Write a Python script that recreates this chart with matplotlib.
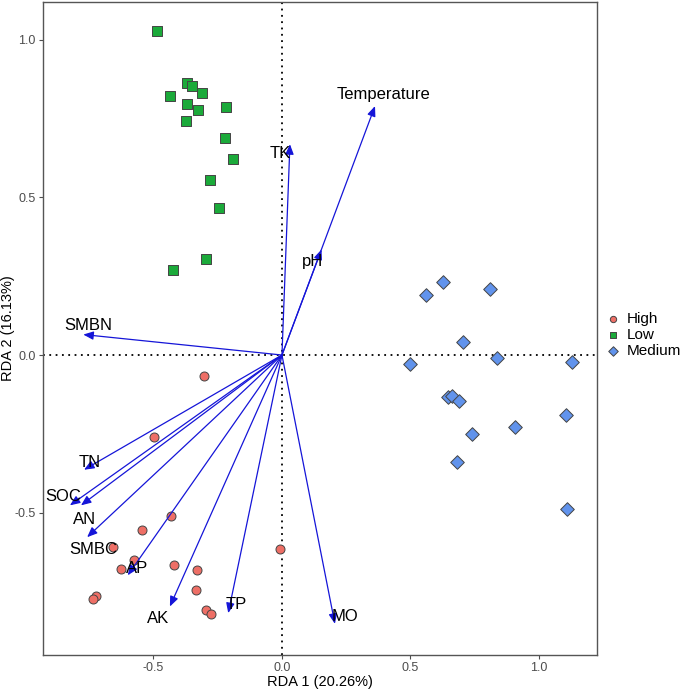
import numpy as np
import matplotlib
matplotlib.use("Agg")
import matplotlib.pyplot as plt

plt.rcParams['font.family'] = ['Liberation Sans', 'DejaVu Sans']

# sample scores
high_x = [-0.304, -0.498, -0.431, -0.544, -0.658, -0.009, -0.576, -0.628,
          -0.419, -0.332, -0.333, -0.722, -0.735, -0.294, -0.275]
high_y = [-0.068, -0.259, -0.510, -0.554, -0.610, -0.617, -0.652, -0.679,
          -0.667, -0.683, -0.745, -0.765, -0.773, -0.808, -0.823]

low_x = [-0.485, -0.435, -0.370, -0.350, -0.310, -0.370, -0.328, -0.219,
         -0.374, -0.223, -0.191, -0.279, -0.245, -0.296, -0.425]
low_y = [1.027, 0.823, 0.862, 0.854, 0.831, 0.795, 0.776, 0.787,
         0.743, 0.690, 0.622, 0.554, 0.465, 0.306, 0.271]

med_x = [0.560, 0.625, 0.811, 0.703, 0.499, 0.837, 1.128, 0.645,
         0.661, 0.687, 1.105, 0.905, 0.740, 0.681, 1.110]
med_y = [0.192, 0.232, 0.208, 0.041, -0.029, -0.011, -0.021, -0.134,
         -0.131, -0.145, -0.189, -0.229, -0.252, -0.339, -0.488]

# environmental vectors
env_names = ['Temperature', 'TK', 'pH', 'SMBN', 'TN', 'SOC', 'AN', 'SMBC',
             'AP', 'AK', 'TP', 'MO']
env_x = [0.362, 0.031, 0.154, -0.773, -0.770, -0.825, -0.782, -0.758,
         -0.600, -0.436, -0.209, 0.206]
env_y = [0.790, 0.669, 0.335, 0.065, -0.364, -0.477, -0.477, -0.578,
         -0.699, -0.798, -0.819, -0.853]
# label positions
lab_x = [0.397, -0.008, 0.119, -0.754, -0.750, -0.851, -0.767, -0.734,
         -0.563, -0.481, -0.176, 0.245]
lab_y = [0.828, 0.641, 0.297, 0.094, -0.340, -0.449, -0.523, -0.617,
         -0.676, -0.837, -0.791, -0.829]

fig = plt.figure(figsize=(6.85, 6.91), dpi=100)
ax = fig.add_axes([0.0623, 0.0525, 0.8097, 0.9445])

ax.axvline(0, color='black', linestyle=(0, (1, 2.5)), linewidth=1.3, zorder=1)
ax.axhline(0, color='black', linestyle=(0, (1, 2.5)), linewidth=1.3, zorder=1)

ax.scatter(high_x, high_y, marker='o', s=42, color='#EE6F66', edgecolors='#444444',
           linewidths=0.7, label='High', zorder=3)
ax.scatter(low_x, low_y, marker='s', s=50, color='#1BAA3A', edgecolors='#444444',
           linewidths=0.7, label='Low', zorder=3)
ax.scatter(med_x, med_y, marker='D', s=48, color='#6193EC', edgecolors='#444444',
           linewidths=0.7, label='Medium', zorder=3)

for nm, ex, ey, lx, ly in zip(env_names, env_x, env_y, lab_x, lab_y):
    ax.annotate('', xy=(ex, ey), xytext=(0, 0),
                arrowprops=dict(arrowstyle='-|>,head_length=0.6,head_width=0.25',
                                color='#1515D8', lw=0.9, shrinkA=0, shrinkB=0),
                zorder=4)
    ax.text(lx, ly, nm, fontsize=12, ha='center', va='center', color='black', zorder=5)

ax.set_xlim(-0.931, 1.227)
ax.set_ylim(-0.951, 1.12)
ax.set_xticks([-0.5, 0.0, 0.5, 1.0])
ax.set_yticks([-0.5, 0.0, 0.5, 1.0])
ax.set_xticklabels(['-0.5', '0.0', '0.5', '1.0'])
ax.set_yticklabels(['-0.5', '0.0', '0.5', '1.0'])
ax.tick_params(colors='#4d4d4d', labelsize=9, length=3, width=0.8)
ax.tick_params(axis='x', pad=2)
ax.tick_params(axis='y', pad=2)
for sp in ax.spines.values():
    sp.set_color('#555555')
    sp.set_linewidth(1.0)

ax.set_xlabel('RDA 1 (20.26%)', fontsize=10.5, labelpad=1)
ax.set_ylabel('RDA 2 (16.13%)', fontsize=10.5)
ax.yaxis.set_label_coords(-0.05, 0.5)

ax.legend(loc='center left', bbox_to_anchor=(1.0, 0.49), frameon=False,
          fontsize=11, handletextpad=0.3, labelspacing=0.12, markerscale=0.7,
          handlelength=1.2, borderaxespad=0.2, borderpad=0.2)

fig.savefig('out.png', dpi=100)
